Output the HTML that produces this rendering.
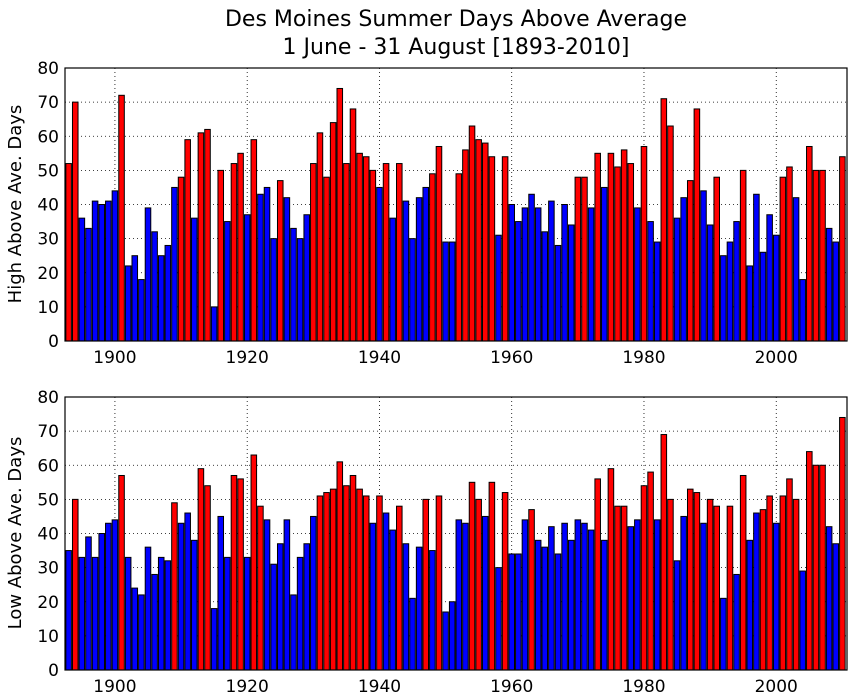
<!DOCTYPE html>
<html><head><meta charset="utf-8"><style>
body{margin:0;background:#fff;}
svg{display:block;font-family:"DejaVu Sans","Liberation Sans",sans-serif;}
</style></head><body>
<svg id="chart" width="852" height="700" viewBox="0 0 852 700" xmlns="http://www.w3.org/2000/svg">
<text x="456" y="26" font-size="22" text-anchor="middle">Des Moines Summer Days Above Average</text>
<text x="456" y="54" font-size="22" text-anchor="middle">1 June - 31 August [1893-2010]</text>
<text transform="translate(21,204) rotate(-90)" font-size="18" text-anchor="middle">High Above Ave. Days</text>
<text transform="translate(21,533) rotate(-90)" font-size="18" text-anchor="middle">Low Above Ave. Days</text>
<g id="top"></g>
<g id="bot"></g>
</svg>
<script>
const startYear = 1893;
const highDays = [52,70,36,33,41,40,41,44,72,22,25,18,39,32,25,28,45,48,59,36,61,62,10,50,35,52,55,37,59,43,45,30,47,42,33,30,37,52,61,48,64,74,52,68,55,54,50,45,52,36,52,41,30,42,45,49,57,29,29,49,56,63,59,58,54,31,54,40,35,39,43,39,32,41,28,40,34,48,48,39,55,45,55,51,56,52,39,57,35,29,71,63,36,42,47,68,44,34,48,25,29,35,50,22,43,26,37,31,48,51,42,18,57,50,50,33,29,54];
const lowDays = [35,50,33,39,33,40,43,44,57,33,24,22,36,28,33,32,49,43,46,38,59,54,18,45,33,57,56,33,63,48,44,31,37,44,22,33,37,45,51,52,53,61,54,57,53,51,43,51,46,41,48,37,21,36,50,35,51,17,20,44,43,55,50,45,55,30,52,34,34,44,47,38,36,42,34,43,38,44,43,41,56,38,59,48,48,42,44,54,58,44,69,50,32,45,53,52,43,50,48,21,48,28,57,38,46,47,51,43,51,56,50,29,64,60,60,42,37,74];
const yTicks = [0,10,20,30,40,50,60,70,80];
const xTicks = [1900,1920,1940,1960,1980,2000];
const threshold = 47;
const NS = "http://www.w3.org/2000/svg";
const X0 = 65, X1 = 847, XMIN = 1892.45, XMAX = 2010.7;
function xs(v){ return X0 + (v - XMIN) / (XMAX - XMIN) * (X1 - X0); }
function mk(tag, attrs, parent){ const e = document.createElementNS(NS, tag); for (const k in attrs) e.setAttribute(k, attrs[k]); parent.appendChild(e); return e; }
function panel(g, data, top, bottom, prefix){
  const ys = v => bottom - v / 80 * (bottom - top);
  yTicks.forEach(t => {
    if (t > 0 && t < 80) {
      const l = mk('line', {x1:X0, x2:X1, y1:ys(t), y2:ys(t), stroke:'#000', 'stroke-width':0.8, 'stroke-dasharray':'1,3'}, g);
      
      
    }
    const tx = mk('text', {x:X0 - 6, y:ys(t) + 6, 'font-size':17, 'text-anchor':'end'}, g);
    tx.textContent = t;
    
    
  });
  xTicks.forEach(t => {
    const l = mk('line', {x1:xs(t), x2:xs(t), y1:top, y2:bottom, stroke:'#000', 'stroke-width':0.8, 'stroke-dasharray':'1,3'}, g);
    
    
    const tx = mk('text', {x:xs(t), y:bottom + 22, 'font-size':17, 'text-anchor':'middle'}, g);
    tx.textContent = t;
    
    
  });
  data.forEach((v, i) => {
    const yr = startYear + i;
    const w = xs(yr + 0.42) - xs(yr - 0.42);
    const r = mk('rect', {x:xs(yr - 0.42), y:ys(v), width:w, height:bottom - ys(v), fill: v >= threshold ? '#ff0000' : '#0000ff', stroke:'#000', 'stroke-width':1}, g);
    
    
  });
  const f = mk('rect', {x:X0, y:top, width:X1 - X0, height:bottom - top, fill:'none', stroke:'#000', 'stroke-width':1.2}, g);
  
  
}
panel(document.getElementById('top'), highDays, 68, 341, 'high');
panel(document.getElementById('bot'), lowDays, 397, 670, 'low');
</script>
</body></html>
